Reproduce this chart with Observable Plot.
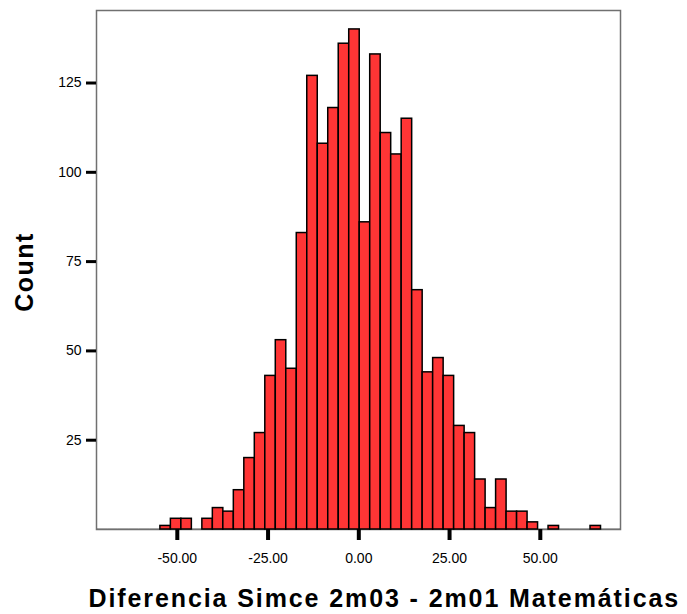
<!DOCTYPE html>
<html>
<head>
<meta charset="utf-8">
<script src="https://cdn.jsdelivr.net/npm/d3@7"></script>
<script src="https://cdn.jsdelivr.net/npm/@observablehq/plot@0.6"></script>
<style>
  html, body { margin: 0; padding: 0; background: #fff; }
</style>
</head>
<body>
<div id="chart"></div>
<script>
// Histogram bins (x in score-difference units)
const binStart = -72.0;
const binWidth = 2.89;
const counts = [
  0, 0, 0, 0, 0, 0,
  1, 3, 3, 0, 3, 6, 5, 11, 20, 27,
  43, 53, 45, 83, 127, 108, 118, 136, 140, 86,
  133, 111, 105, 115, 67, 44, 48, 43, 29, 27,
  14, 6, 14, 5, 5, 2, 0, 1, 0, 0, 0, 1,
  0, 0
];
const xTicks = [-50, -25, 0, 25, 50];
const yTicks = [25, 50, 75, 100, 125];
const xTitle = "Diferencia Simce 2m03 - 2m01 Matemáticas";
const yTitle = "Count";

const bins = counts.map((c, i) => ({
  x1: binStart + i * binWidth,
  x2: binStart + (i + 1) * binWidth,
  count: c
}));

const chart = Plot.plot({
  width: 687,
  height: 614,
  marginLeft: 96,
  marginRight: 67,
  marginTop: 10,
  marginBottom: 85,
  style: {fontFamily: "'Liberation Sans', Arial, sans-serif", fontSize: "14px", background: "#fff", color: "#000"},
  x: {domain: [-72.26, 72.09]},
  y: {domain: [0, 145.3]},
  marks: [
    Plot.frame({stroke: "#707070", strokeWidth: 1.5}),
    Plot.ruleY(bins.filter(d => d.count === 0), {x1: "x1", x2: "x2", y: 0, stroke: "#000", strokeWidth: 1.5, clip: true}),
    Plot.rectY(bins.filter(d => d.count > 0), {x1: "x1", x2: "x2", y: "count", fill: "#ff3535", stroke: "#000", strokeWidth: 1.5}),
    Plot.axisY({ticks: yTicks, tickSize: 10, tickPadding: 5, strokeWidth: 3, fontSize: 14, label: null, tickFormat: d => String(d)}),
    Plot.axisX({ticks: xTicks, tickSize: 11, tickPadding: 13, strokeWidth: 4, fontSize: 14, label: null, tickFormat: d => d.toFixed(2)}),
    Plot.text([xTitle], {text: d => d, frameAnchor: "bottom-left", dx: -8, dy: 77, textAnchor: "start", fontSize: 25, fontWeight: "bold", fill: "#000"}),
    Plot.text([yTitle], {text: d => d, frameAnchor: "left", dx: -72, dy: 2, rotate: -90, textAnchor: "middle", fontSize: 25, fontWeight: "bold", fill: "#000"})
  ]
});

chart.querySelectorAll("text").forEach(t => {
  const s = t.textContent;
  if (s === xTitle) t.setAttribute("letter-spacing", "1.9");
  if (s === yTitle) t.setAttribute("letter-spacing", "1.5");
});

document.getElementById("chart").appendChild(chart);
</script>
</body>
</html>
